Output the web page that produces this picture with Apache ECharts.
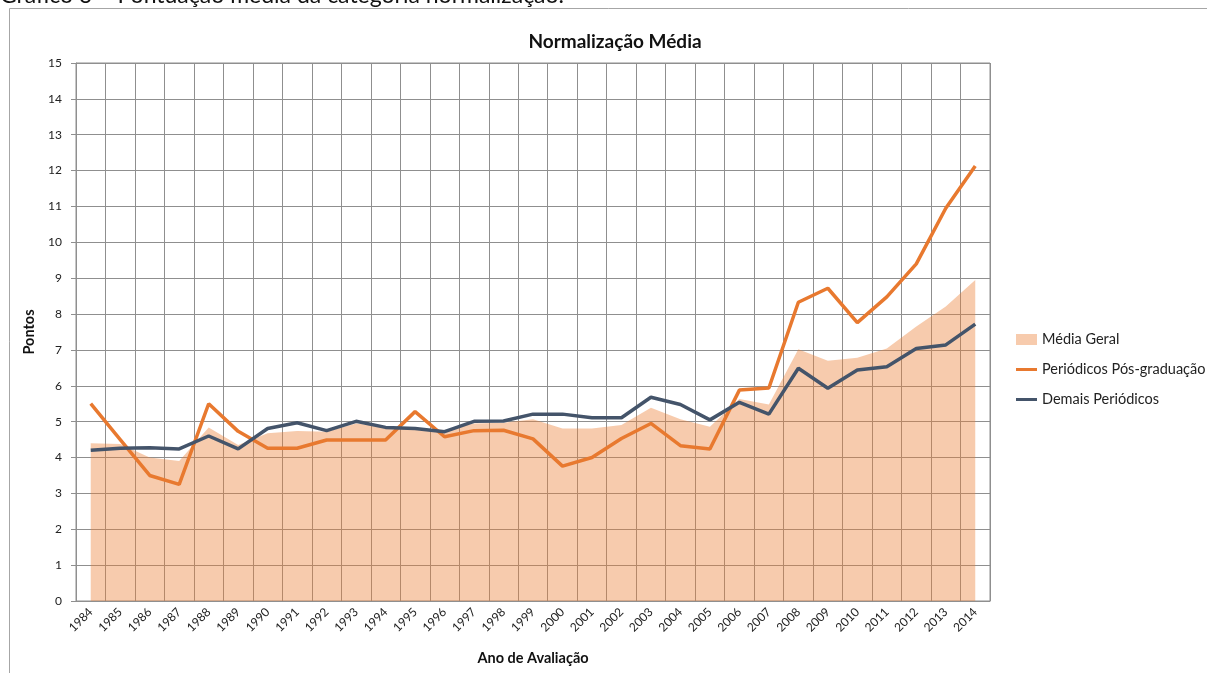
<!DOCTYPE html>
<html>
<head>
<meta charset="utf-8">
<script src="https://cdn.jsdelivr.net/npm/echarts@6/dist/echarts.min.js"></script>
<style>
html,body{margin:0;padding:0;background:#fff;}
#c{width:1207px;height:673px;}
</style>
</head>
<body>
<div id="c"></div>
<script>
const years = ['1984','1985','1986','1987','1988','1989','1990','1991','1992','1993','1994','1995','1996','1997','1998','1999','2000','2001','2002','2003','2004','2005','2006','2007','2008','2009','2010','2011','2012','2013','2014'];
const mediaGeral = [4.40,4.38,4.00,3.90,4.84,4.35,4.68,4.74,4.72,4.95,4.86,4.81,4.77,4.95,4.97,5.07,4.81,4.81,4.91,5.39,5.07,4.86,5.63,5.48,7.02,6.70,6.78,7.04,7.65,8.21,8.95];
const posGraduacao = [5.50,4.50,3.50,3.25,5.50,4.73,4.26,4.26,4.49,4.49,4.49,5.28,4.58,4.75,4.76,4.52,3.76,4.00,4.53,4.95,4.33,4.24,5.88,5.94,8.33,8.72,7.76,8.48,9.40,10.95,12.13];
const demaisPeriodicos = [4.20,4.26,4.27,4.24,4.60,4.24,4.81,4.97,4.75,5.01,4.84,4.81,4.72,5.01,5.02,5.21,5.21,5.11,5.11,5.68,5.48,5.05,5.54,5.21,6.49,5.93,6.44,6.53,7.04,7.14,7.72];
const yTicks = {min:0, max:15, interval:1};

const FONT = 'Lato, "Open Sans", sans-serif';
const chart = echarts.init(document.getElementById('c'), null, {renderer:'canvas'});
chart.setOption({
  animation:false,
  backgroundColor:'#fff',
  textStyle:{fontFamily:FONT},
  title:{
    text:'Normalização Média', left:610, top:27, textAlign:'center',
    textStyle:{fontFamily:FONT, fontSize:19, fontWeight:'bold', color:'#111'}
  },
  graphic:[
    {type:'rect', shape:{x:9.5, y:8.5, width:1300, height:700}, style:{fill:'none', stroke:'#a6a6a6', lineWidth:1}, silent:true, z:-1},
    {type:'text', left:0, top:-16, style:{text:'Gráfico 3 – Pontuação média da categoria normalização.', font:'23px '+FONT, fill:'#111'}}
  ],
  legend:{
    orient:'vertical', left:1011, top:327, itemGap:15, itemWidth:21, itemHeight:11,
    textStyle:{fontFamily:FONT, fontSize:14.5, color:'#222'},
    data:[
      {name:'Média Geral', icon:'rect'},
      {name:'Periódicos Pós-graduação', icon:'path://M0,0H21V3H0Z'},
      {name:'Demais Periódicos', icon:'path://M0,0H21V3H0Z'}
    ]
  },
  grid:{left:76, right:217, top:63, bottom:72, show:true, borderColor:'#8f8f8f', borderWidth:1},
  xAxis:{
    type:'category', data:years, boundaryGap:true,
    name:'Ano de Avaliação', nameLocation:'middle', nameGap:50,
    nameTextStyle:{fontFamily:FONT, fontSize:14.5, fontWeight:'bold', color:'#111'},
    axisLine:{show:true, lineStyle:{color:'#8f8f8f'}},
    axisTick:{show:false},
    axisLabel:{rotate:45, fontSize:12, color:'#222', margin:9, interval:0},
    splitLine:{show:true, interval:0, lineStyle:{color:'#8f8f8f', width:1}}
  },
  yAxis:{
    type:'value', min:yTicks.min, max:yTicks.max, interval:yTicks.interval,
    name:'Pontos', nameLocation:'middle', nameGap:30, nameRotate:90,
    nameTextStyle:{fontFamily:FONT, fontSize:14.5, fontWeight:'bold', color:'#111'},
    axisLine:{show:true, lineStyle:{color:'#8f8f8f'}},
    axisTick:{show:true, length:5, lineStyle:{color:'#8f8f8f'}},
    axisLabel:{fontSize:12, color:'#222', margin:14},
    splitLine:{show:true, lineStyle:{color:'#8f8f8f', width:1}}
  },
  series:[
    {name:'Média Geral', type:'line', data:mediaGeral, symbol:'none', z:1,
     itemStyle:{color:'rgba(236,125,49,0.4)'},
     lineStyle:{width:0, opacity:0},
     areaStyle:{color:'rgba(236,125,49,0.4)', opacity:1}},
    {name:'Periódicos Pós-graduação', type:'line', data:posGraduacao, symbol:'none', z:3,
     itemStyle:{color:'#e8792f'}, lineStyle:{width:3.5, color:'#e8792f'}},
    {name:'Demais Periódicos', type:'line', data:demaisPeriodicos, symbol:'none', z:4,
     itemStyle:{color:'#44546a'}, lineStyle:{width:3.5, color:'#44546a'}}
  ]
});
</script>
</body>
</html>
